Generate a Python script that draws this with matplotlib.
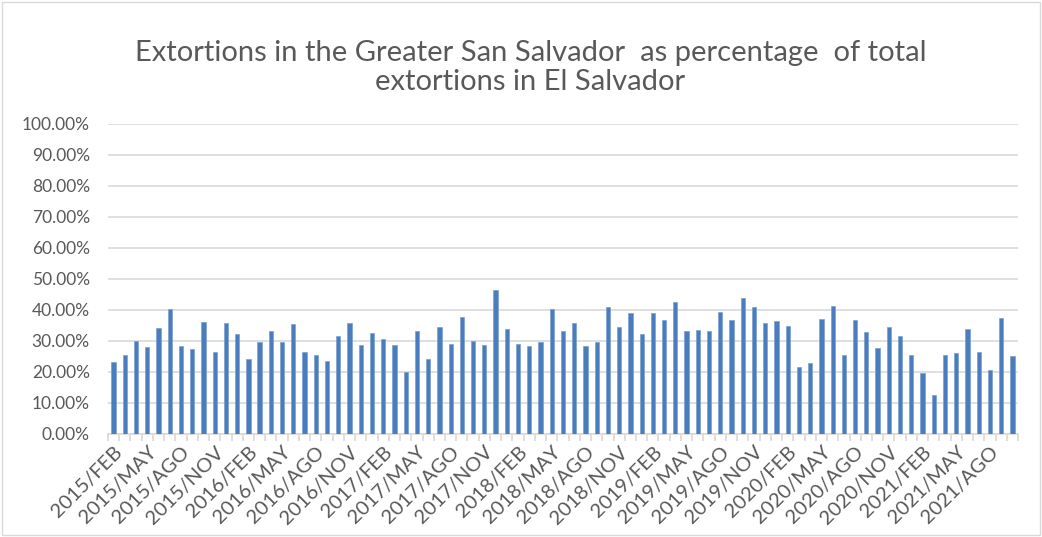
import numpy as np
import matplotlib
matplotlib.use('Agg')
from matplotlib import pyplot as plt
from matplotlib.ticker import PercentFormatter, FixedLocator

plt.rcParams['font.family'] = ['Lato', 'DejaVu Sans']

months = ['JAN', 'FEB', 'MAR', 'APR', 'MAY', 'JUN', 'JUL', 'AGO', 'SEP', 'OCT', 'NOV', 'DIC']

# monthly share (%), 2015/FEB .. 2021/OCT
share = [23.2, 25.4, 29.8, 28.0, 34.1, 40.2, 28.2, 27.2, 36.0, 26.3,
         35.6, 32.1, 24.1, 29.7, 33.1, 29.7, 35.3, 26.3, 25.3, 23.5,
         31.6, 35.7, 28.6, 32.5, 30.6, 28.6, 20.0, 33.1, 24.0, 34.3,
         28.9, 37.5, 29.9, 28.6, 46.3, 33.7, 28.8, 28.3, 29.5, 40.1,
         33.1, 35.7, 28.3, 29.5, 40.8, 34.4, 38.8, 32.1, 38.8, 36.8,
         42.6, 33.1, 33.4, 33.0, 39.2, 36.8, 43.8, 40.8, 35.7, 36.2,
         34.6, 21.6, 22.9, 37.0, 41.2, 25.3, 36.7, 32.8, 27.7, 34.4,
         31.4, 25.4, 19.5, 12.3, 25.4, 26.0, 33.8, 26.2, 20.4, 37.3,
         25.0]

labels = []
for i in range(len(share)):
    m = 1 + i
    labels.append('%d/%s' % (2015 + m // 12, months[m % 12]))

fig = plt.figure(figsize=(10.42, 5.37), dpi=100)
fig.patches.append(plt.Rectangle((0.002, 0.003), 0.996, 0.994, transform=fig.transFigure,
                                 fill=False, edgecolor='#d9d9d9', linewidth=1))
ax = fig.add_axes([0.1036, 0.1927, 0.8734, 0.5764])

x = np.arange(len(share))
ax.bar(x, share, width=0.38, color='#4a7dbd', edgecolor='#7aa0d0', linewidth=0.5, zorder=3)

ax.set_xlim(-0.5, len(share) - 0.5)
ax.set_ylim(0, 100)
ax.set_yticks(np.arange(0, 101, 10))
ax.yaxis.set_major_formatter(PercentFormatter(decimals=2))
ax.grid(axis='y', color='#d9d9d9', linewidth=1.2, zorder=0)

ax.set_xticks(x[::3])
ax.set_xticklabels(labels[::3], rotation=45, ha='right', rotation_mode='anchor')
ax.xaxis.set_minor_locator(FixedLocator(np.arange(-0.5, len(share), 1)))
ax.tick_params(axis='x', which='major', length=0, pad=7, labelsize=14.5, labelcolor='#595959')
ax.tick_params(axis='x', which='minor', length=5, color='#d9d9d9', width=1.2)
ax.tick_params(axis='y', length=0, pad=13, labelsize=12.5, labelcolor='#595959')

for s in ['top', 'right', 'left']:
    ax.spines[s].set_visible(False)
ax.spines['bottom'].set_color('#d9d9d9')
ax.spines['bottom'].set_linewidth(1.2)

fig.text(0.509, 0.875, 'Extortions in the Greater San Salvador  as percentage  of total\nextortions in El Salvador',
         ha='center', va='center', fontsize=21, color='#595959', linespacing=1.15)

fig.savefig('out.png', dpi=100)
